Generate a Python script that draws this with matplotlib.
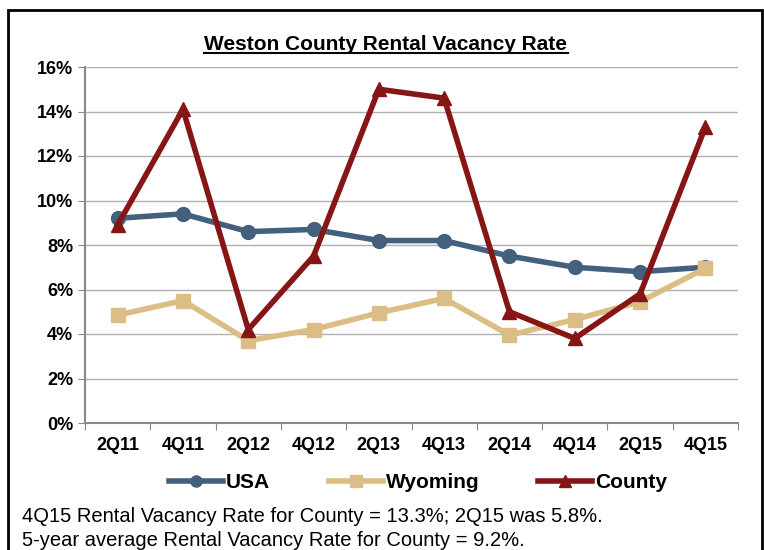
import matplotlib
matplotlib.use("Agg")
import matplotlib.pyplot as plt
from matplotlib.patches import Rectangle
from matplotlib.lines import Line2D

quarters = ["2Q11", "4Q11", "2Q12", "4Q12", "2Q13", "4Q13", "2Q14", "4Q14", "2Q15", "4Q15"]
usa = [9.2, 9.4, 8.6, 8.7, 8.2, 8.2, 7.5, 7.0, 6.8, 7.0]
wyoming = [4.85, 5.5, 3.7, 4.2, 4.95, 5.6, 3.95, 4.65, 5.45, 6.95]
county = [8.9, 14.1, 4.2, 7.5, 15.0, 14.6, 5.0, 3.8, 5.8, 13.3]

plt.rcParams['font.family'] = ['Liberation Sans', 'DejaVu Sans']

fig = plt.figure(figsize=(7.64, 5.5), dpi=100)
fig.patches.append(Rectangle((8/764, -0.05), 754/764, 1.05 - 10/550, transform=fig.transFigure,
                             fill=False, edgecolor="black", linewidth=2))

ax = fig.add_axes([85/764, 1 - 423/550, (738 - 85)/764, (423 - 67)/550])
x = range(len(quarters))
ax.plot(x, usa, color="#44607f", lw=4, marker="o", ms=10, label="USA")
ax.plot(x, wyoming, color="#dcbd85", lw=4, marker="s", ms=10, label="Wyoming")
ax.plot(x, county, color="#861515", lw=4, marker="^", ms=10, label="County")

ax.set_ylim(0, 16)
ax.set_xlim(-0.5, len(quarters) - 0.5)
ax.set_yticks(range(0, 17, 2))
ax.set_yticklabels([f"{v}%" for v in range(0, 17, 2)], fontsize=13, fontweight="bold")
ax.set_xticks([i - 0.5 for i in range(len(quarters) + 1)], minor=False)
ax.set_xticklabels([])
ax.set_xticks(list(x), minor=True)
ax.set_xticklabels(quarters, minor=True, fontsize=13, fontweight="bold")
ax.tick_params(axis="x", which="minor", length=0, pad=10)
ax.tick_params(axis="x", which="major", length=5, color="#888888", direction="out")
ax.tick_params(axis="y", length=5, color="#888888", direction="out")
ax.grid(axis="y", color="#b0b0b0", lw=1)
ax.set_axisbelow(True)
for s in ["top", "right"]:
    ax.spines[s].set_visible(False)
ax.spines["left"].set_color("#888888")
ax.spines["bottom"].set_color("#888888")
ax.spines["left"].set_linewidth(1.5)
ax.spines["bottom"].set_linewidth(1.5)

t = fig.text(386/764, 1 - 45/550, "Weston County Rental Vacancy Rate", ha="center", va="center",
             fontsize=15, fontweight="bold")
fig.canvas.draw()
bb = t.get_window_extent().transformed(fig.transFigure.inverted())
fig.add_artist(Line2D([bb.x0, bb.x1], [bb.y0 + 0.002, bb.y0 + 0.002], transform=fig.transFigure,
                      color="black", lw=1.5))

fig.legend(loc="center", bbox_to_anchor=(418/764, 1 - 483/550), ncol=3, frameon=False,
           prop={"weight": "bold", "size": 15}, handlelength=2.6, handletextpad=0.15,
           columnspacing=2.8, markerscale=0.8)

fig.text(22/764, 1 - 517/550, "4Q15 Rental Vacancy Rate for County = 13.3%; 2Q15 was 5.8%.",
         fontsize=14.5, va="center")
fig.text(22/764, 1 - 541/550, "5-year average Rental Vacancy Rate for County = 9.2%.",
         fontsize=14.5, va="center")

fig.savefig("out.png", dpi=100)
